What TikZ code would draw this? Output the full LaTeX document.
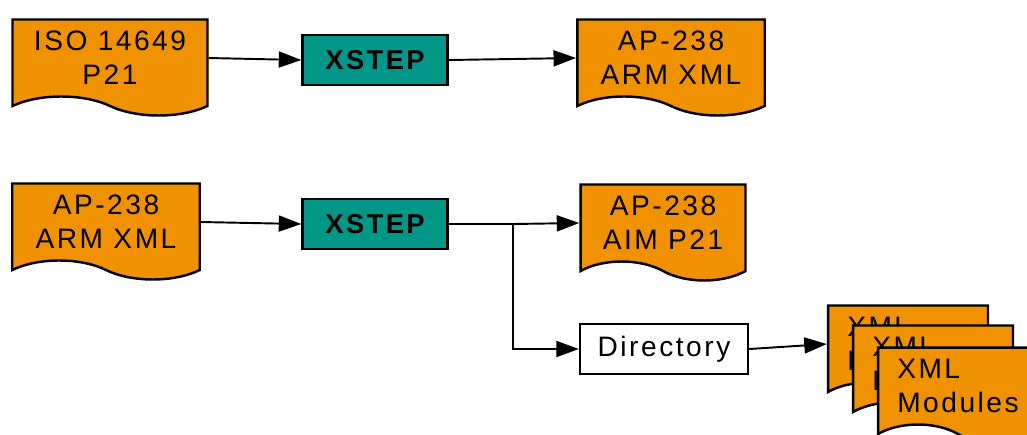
\documentclass[tikz,border=0pt]{standalone}
\usepackage{fontspec}
\setmainfont{Liberation Sans}[LetterSpace=9]
\usetikzlibrary{shapes.symbols,arrows.meta}
\definecolor{docorange}{RGB}{240,145,0}
\definecolor{stepteal}{RGB}{0,150,136}

\begin{document}
\begin{tikzpicture}[x=0.02cm,y=-0.02cm,line width=1.1pt,>={Triangle[length=0.45cm,width=0.32cm]},
  doc/.style={tape,tape bend top=none,tape bend bottom=out and in,tape bend height=0.38cm,draw,line width=1.4pt,fill=docorange,minimum width=3.8cm,minimum height=1.92cm,align=center,font=\fontsize{16}{19.3}\selectfont},
  stepbox/.style={rectangle,draw,line width=1.4pt,fill=stepteal,minimum width=2.9cm,minimum height=1.0cm,font=\fontsize{15.5}{18}\selectfont\bfseries},
  dirbox/.style={rectangle,draw,line width=1.4pt,fill=white,minimum width=3.36cm,minimum height=1.0cm,font=\fontsize{16}{19}\selectfont}]
\useasboundingbox (0,0) rectangle (1027,434);
\clip (0,0) rectangle (1027,434);
\node[doc,minimum width=3.9cm] (iso) at (110,58) {ISO 14649\\P21};
\node[stepbox] (xstepA) at (375,60) {XSTEP};
\node[doc,minimum width=3.75cm] (armA) at (671,58) {AP-238\\ARM XML};
\node[doc,minimum width=3.75cm] (armB) at (106,222) {AP-238\\ARM XML};
\node[stepbox] (xstepB) at (375,224) {XSTEP};
\node[doc,minimum width=3.3cm] (aim) at (663,223) {AP-238\\AIM P21};
\node[dirbox] (dir) at (664,349) {Directory};
\node[doc,minimum width=3.2cm,align=left] (modA) at (908,344) {XML\\Modules};
\node[doc,minimum width=3.2cm,align=left] (modB) at (933,364) {XML\\Modules};
\node[doc,minimum width=3.2cm,align=left] (modC) at (958,386) {XML\\Modules};
\coordinate (split) at (513,224);
\draw[->] (iso.east) -- (xstepA.west);
\draw[->] (xstepA.east) -- (armA.west);
\draw[->] (armB.east) -- (xstepB.west);
\draw (xstepB.east) -- (split);
\draw[->] (split) -- (aim.west);
\draw[->] (split) |- (dir.west);
\draw[->] (dir.east) -- (modA.west);
\end{tikzpicture}
\end{document}
